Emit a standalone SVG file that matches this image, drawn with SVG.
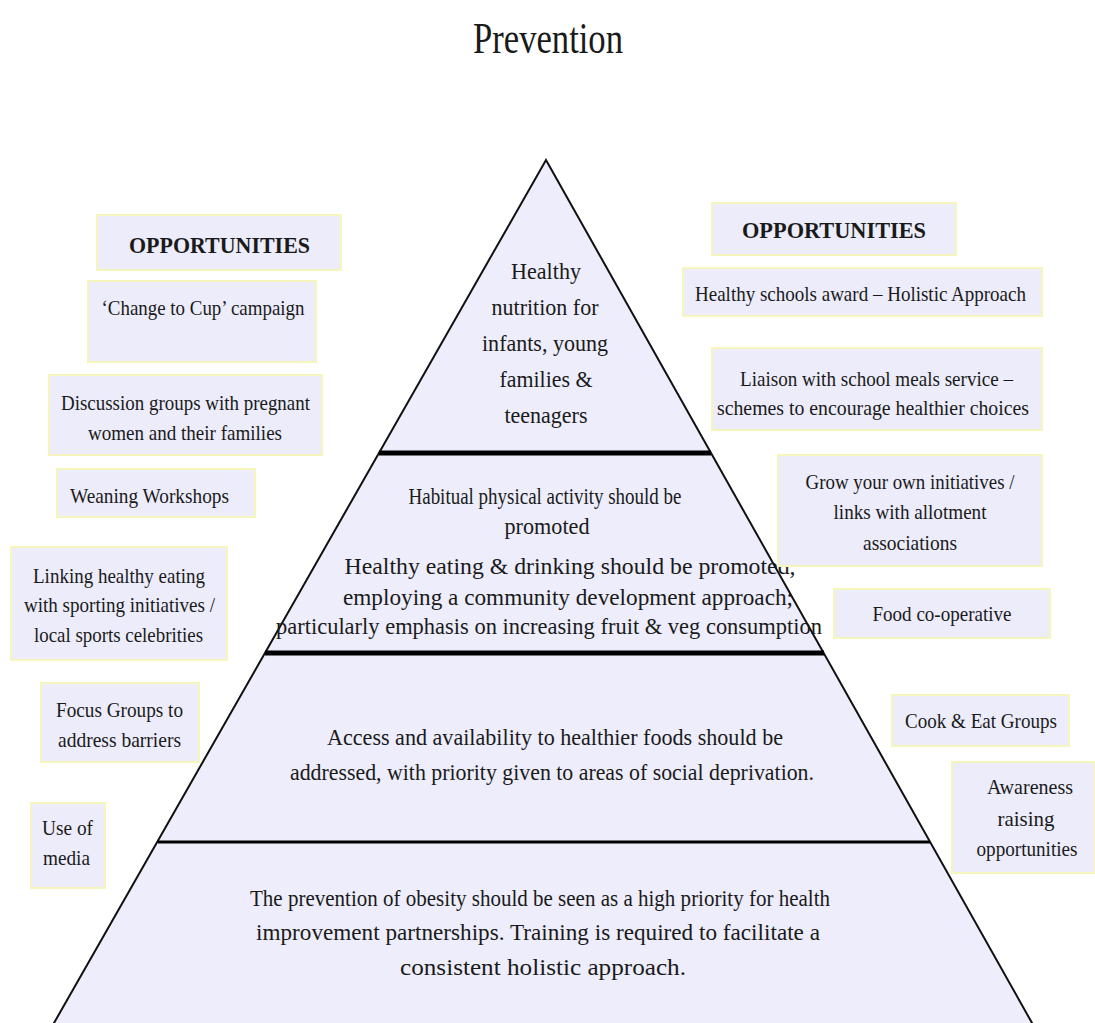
<svg xmlns="http://www.w3.org/2000/svg" width="1095" height="1023" viewBox="0 0 1095 1023">
<style>
.bg{fill:#ffffff}
.pyr{fill:#ededfb;stroke:#111;stroke-width:2;stroke-linejoin:miter}
.div{stroke:#000;stroke-width:5}
.div2{stroke:#000;stroke-width:3}
.box{fill:#ececfa;stroke:#f6f6bc;stroke-width:2}
.t{font-family:"Liberation Serif","Times New Roman",serif;font-size:22px;fill:#1a1a1a;text-anchor:middle}
.p{font-size:23px}
.ts{text-anchor:start}
.h{font-weight:bold;font-size:24px}
.title{font-family:"Liberation Serif","Times New Roman",serif;font-size:44px;fill:#1a1a1a;text-anchor:middle}
</style>
<rect class="bg" x="0" y="0" width="1095" height="1023"/>
<text class="title" x="548" y="53" textLength="150" lengthAdjust="spacingAndGlyphs">Prevention</text>

<g id="pyramid">
<polygon class="pyr" points="546,160 1036,1030 50,1030"/>
<line class="div" x1="379" y1="453" x2="711" y2="453"/>
<line class="div" x1="265" y1="653" x2="824" y2="653"/>
<line class="div2" x1="158" y1="842" x2="930" y2="842"/>
</g>

<g id="tier1">
<text class="t p" x="546" y="279" textLength="70" lengthAdjust="spacingAndGlyphs">Healthy</text>
<text class="t p" x="545" y="315" textLength="107" lengthAdjust="spacingAndGlyphs">nutrition for</text>
<text class="t p" x="545" y="351" textLength="126" lengthAdjust="spacingAndGlyphs">infants, young</text>
<text class="t p" x="546" y="387" textLength="93" lengthAdjust="spacingAndGlyphs">families &amp;</text>
<text class="t p" x="546" y="423" textLength="83" lengthAdjust="spacingAndGlyphs">teenagers</text>
</g>

<g id="tier2">
<text class="t p" x="545" y="504" textLength="273" lengthAdjust="spacingAndGlyphs">Habitual physical activity should be</text>
<text class="t p" x="547" y="534" textLength="85" lengthAdjust="spacingAndGlyphs">promoted</text>
<text class="t p" x="570" y="574" textLength="451" lengthAdjust="spacingAndGlyphs">Healthy eating &amp; drinking should be promoted,</text>
<text class="t p" x="568" y="605" textLength="450" lengthAdjust="spacingAndGlyphs">employing a community development approach;</text>
<text class="t p" x="549" y="634" textLength="546" lengthAdjust="spacingAndGlyphs">particularly emphasis on increasing fruit &amp; veg consumption</text>
</g>

<g id="tier3">
<text class="t p" x="555" y="745" textLength="456" lengthAdjust="spacingAndGlyphs">Access and availability to healthier foods should be</text>
<text class="t p" x="552" y="780" textLength="524" lengthAdjust="spacingAndGlyphs">addressed, with priority given to areas of social deprivation.</text>
</g>

<g id="tier4">
<text class="t p" x="540" y="906" textLength="580" lengthAdjust="spacingAndGlyphs">The prevention of obesity should be seen as a high priority for health</text>
<text class="t p" x="538" y="940" textLength="564" lengthAdjust="spacingAndGlyphs">improvement partnerships.  Training is required to facilitate a</text>
<text class="t p" x="543" y="975" textLength="286" lengthAdjust="spacingAndGlyphs">consistent holistic approach.</text>
</g>

<g id="left-opportunities">
<rect class="box" x="97" y="215" width="244" height="55"/>
<text class="t h" x="219.5" y="253" textLength="181" lengthAdjust="spacingAndGlyphs">OPPORTUNITIES</text>
</g>
<g id="change-to-cup">
<rect class="box" x="88" y="281" width="228" height="81"/>
<text class="t" x="203" y="315" textLength="203" lengthAdjust="spacingAndGlyphs">‘Change to Cup’ campaign</text>
</g>
<g id="discussion-groups">
<rect class="box" x="49" y="375" width="273" height="80"/>
<text class="t" x="185.5" y="410" textLength="249" lengthAdjust="spacingAndGlyphs">Discussion groups with pregnant</text>
<text class="t" x="185" y="440" textLength="194" lengthAdjust="spacingAndGlyphs">women and their families</text>
</g>
<g id="weaning-workshops">
<rect class="box" x="57" y="469" width="198" height="48"/>
<text class="t ts" x="70" y="503" textLength="159" lengthAdjust="spacingAndGlyphs">Weaning Workshops</text>
</g>
<g id="linking-healthy-eating">
<rect class="box" x="11" y="547" width="216" height="113"/>
<text class="t" x="119" y="583" textLength="172" lengthAdjust="spacingAndGlyphs">Linking healthy eating</text>
<text class="t" x="119.5" y="612" textLength="191" lengthAdjust="spacingAndGlyphs">with sporting initiatives /</text>
<text class="t" x="118.5" y="642" textLength="169" lengthAdjust="spacingAndGlyphs">local sports celebrities</text>
</g>
<g id="focus-groups">
<rect class="box" x="41" y="683" width="158" height="79"/>
<text class="t" x="119.5" y="717" textLength="127" lengthAdjust="spacingAndGlyphs">Focus Groups to</text>
<text class="t" x="119.5" y="747" textLength="123" lengthAdjust="spacingAndGlyphs">address barriers</text>
</g>
<g id="use-of-media">
<rect class="box" x="31" y="803" width="74" height="85"/>
<text class="t" x="67.5" y="835" textLength="51" lengthAdjust="spacingAndGlyphs">Use of</text>
<text class="t" x="66.5" y="865" textLength="47" lengthAdjust="spacingAndGlyphs">media</text>
</g>

<g id="right-opportunities">
<rect class="box" x="712" y="203" width="244" height="52"/>
<text class="t h" x="834" y="238" textLength="184" lengthAdjust="spacingAndGlyphs">OPPORTUNITIES</text>
</g>
<g id="healthy-schools">
<rect class="box" x="683" y="268" width="359" height="48"/>
<text class="t" x="860.5" y="301" textLength="331" lengthAdjust="spacingAndGlyphs">Healthy schools award – Holistic Approach</text>
</g>
<g id="liaison">
<rect class="box" x="712" y="348" width="330" height="82"/>
<text class="t" x="876.5" y="386" textLength="273" lengthAdjust="spacingAndGlyphs">Liaison with school meals service –</text>
<text class="t" x="873" y="415" textLength="312" lengthAdjust="spacingAndGlyphs">schemes to encourage healthier choices</text>
</g>
<g id="grow-your-own">
<rect class="box" x="778" y="455" width="264" height="111"/>
<text class="t" x="910" y="489" textLength="209" lengthAdjust="spacingAndGlyphs">Grow your own initiatives /</text>
<text class="t" x="910" y="519" textLength="153" lengthAdjust="spacingAndGlyphs">links with allotment</text>
<text class="t" x="910" y="550" textLength="94" lengthAdjust="spacingAndGlyphs">associations</text>
</g>
<g id="food-cooperative">
<rect class="box" x="834" y="589" width="216" height="49"/>
<text class="t" x="942" y="621" textLength="139" lengthAdjust="spacingAndGlyphs">Food co-operative</text>
</g>
<g id="cook-eat">
<rect class="box" x="892" y="695" width="177" height="51"/>
<text class="t" x="981" y="728" textLength="152" lengthAdjust="spacingAndGlyphs">Cook &amp; Eat Groups</text>
</g>
<g id="awareness">
<rect class="box" x="952" y="762" width="143" height="111"/>
<text class="t" x="1030" y="794" textLength="86" lengthAdjust="spacingAndGlyphs">Awareness</text>
<text class="t" x="1026" y="826" textLength="57" lengthAdjust="spacingAndGlyphs">raising</text>
<text class="t" x="1027" y="856" textLength="101" lengthAdjust="spacingAndGlyphs">opportunities</text>
</g>

<g id="connectors"></g>
</svg>
